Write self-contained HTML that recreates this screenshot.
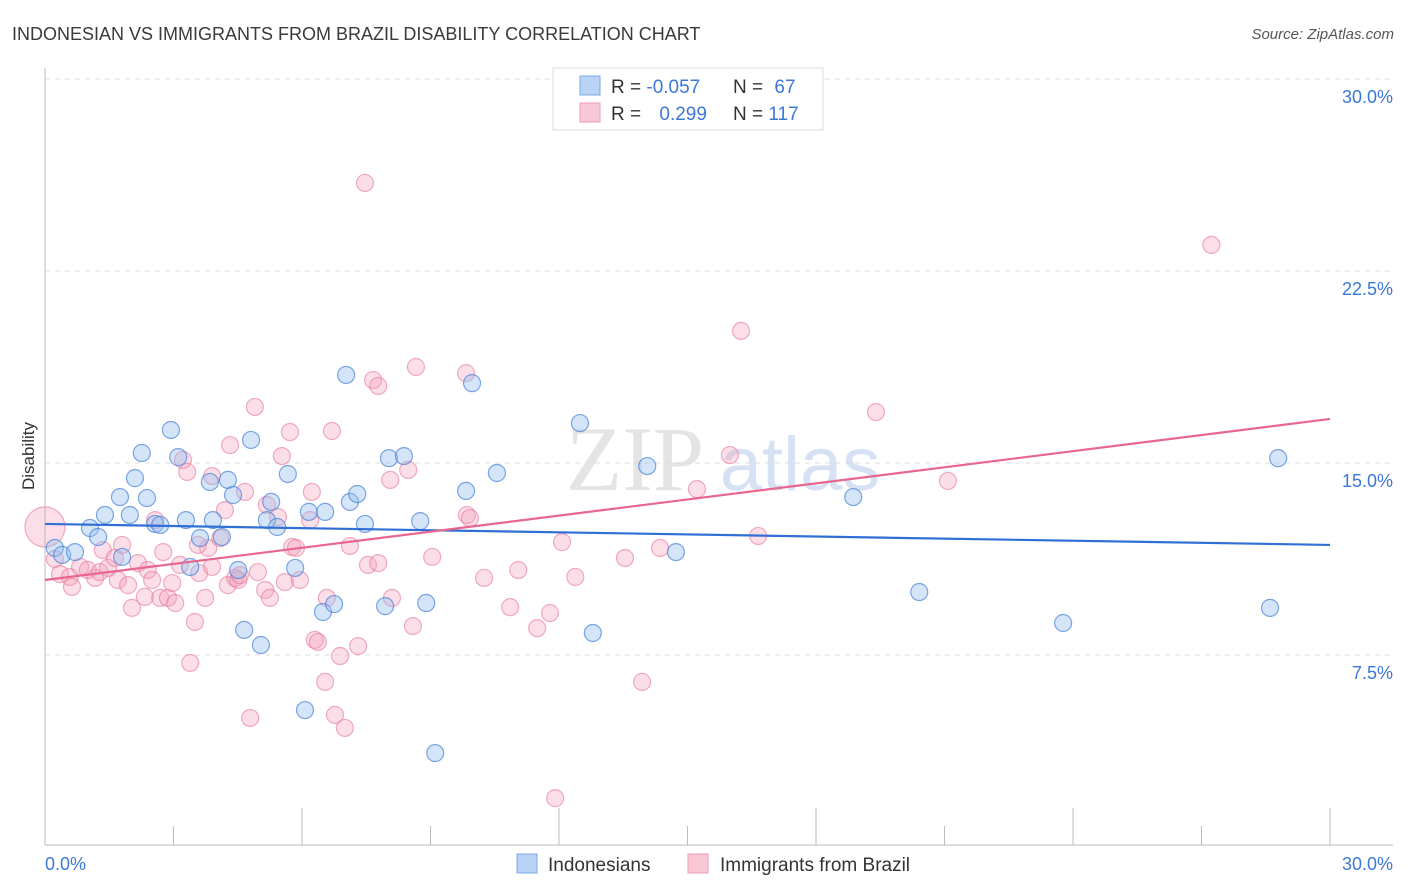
<!DOCTYPE html>
<html><head><meta charset="utf-8"><style>
body{margin:0;background:#fff;font-family:"Liberation Sans",sans-serif;}
svg{display:block}
</style></head><body>
<svg id="chart" width="1406" height="892" viewBox="0 0 1406 892" xmlns="http://www.w3.org/2000/svg">
<text x="12" y="40" font-size="18" fill="#3a3a3a">INDONESIAN VS IMMIGRANTS FROM BRAZIL DISABILITY CORRELATION CHART</text>
<text x="1394" y="39" font-size="15" font-style="italic" fill="#555" text-anchor="end">Source: ZipAtlas.com</text>
<g>
<text x="635" y="490" font-size="92" font-family="Liberation Serif,serif" fill="#e4e4e4" text-anchor="middle">ZIP</text>
<text x="800" y="490" font-size="76" fill="#d6e2f4" text-anchor="middle">atlas</text>
</g>
<g id="grid"></g>
<g id="axes"></g>
<g id="marks"></g>
<g>
<rect x="553" y="68" width="270" height="62" fill="#fff" stroke="#ddd"/>
<rect x="580" y="76" width="20" height="19" fill="#b8d3f6" stroke="#7aa8e6"/>
<rect x="580" y="103" width="20" height="19" fill="#f9c8d6" stroke="#ec9ab3"/>
<text x="611" y="93" font-size="19" fill="#333">R = <tspan fill="#3b78d8">-0.057</tspan></text>
<text x="733" y="93" font-size="19" fill="#333">N = <tspan fill="#3b78d8" dx="6">67</tspan></text>
<text x="611" y="120" font-size="19" fill="#333">R = <tspan fill="#3b78d8" dx="13">0.299</tspan></text>
<text x="733" y="120" font-size="19" fill="#333">N = <tspan fill="#3b78d8">117</tspan></text>
</g>
<text transform="translate(34,456) rotate(-90)" font-size="17" fill="#333" text-anchor="middle">Disability</text>
<g>
<rect x="517" y="854" width="20" height="19" fill="#b8d3f6" stroke="#7aa8e6"/>
<text x="548" y="871" font-size="19" fill="#333">Indonesians</text>
<rect x="688" y="854" width="20" height="19" fill="#f9c8d6" stroke="#ec9ab3"/>
<text x="720" y="871" font-size="19" fill="#333">Immigrants from Brazil</text>
</g>
</svg>
<script>
const yTicks=[7.5,15,22.5,30];
const yTickLabels=["7.5%","15.0%","22.5%","30.0%"];
const xTicks=[0,3,6,9,12,15,18,21,24,27,30];
const blueX=[0.23,0.40,0.70,1.05,1.24,1.40,1.75,1.80,1.98,2.10,2.26,2.38,2.57,2.69,2.94,3.11,3.29,3.39,3.62,3.85,3.92,4.13,4.27,4.39,4.51,4.65,4.81,5.04,5.18,5.28,5.42,5.67,5.84,6.07,6.16,6.49,6.54,6.75,7.03,7.12,7.29,7.47,7.94,8.03,8.38,8.76,8.90,9.11,9.83,9.97,10.55,12.49,12.79,14.06,14.73,18.87,20.41,23.77,28.60,28.79];
const blueY=[11.68,11.41,11.52,12.46,12.11,12.97,13.67,11.33,12.97,14.41,15.39,13.63,12.62,12.58,16.29,15.23,12.77,10.94,12.07,14.26,12.77,12.11,14.34,13.75,10.82,8.48,15.90,7.89,12.77,13.48,12.50,14.57,10.90,5.35,13.09,9.18,13.09,9.49,18.44,13.48,13.79,12.62,9.41,15.19,15.27,12.73,9.53,3.67,13.91,18.12,14.61,16.56,8.36,14.88,11.52,13.67,9.96,8.75,9.34,15.19];
const pinkX=[0.0,0.23,0.35,0.58,0.63,0.82,1.0,1.17,1.28,1.35,1.47,1.63,1.7,1.8,1.94,2.03,2.17,2.33,2.4,2.5,2.57,2.69,2.76,2.87,2.97,3.04,3.15,3.22,3.32,3.5,3.39,3.6,3.74,3.81,3.9,3.9,4.09,4.2,4.27,4.32,4.44,4.51,4.55,4.67,4.79,4.9,4.97,5.14,5.18,5.25,5.44,5.53,5.6,5.72,5.77,5.86,5.95,6.19,6.23,6.3,6.37,6.54,6.58,6.7,6.77,6.89,7.0,7.12,7.31,7.47,7.54,7.66,7.78,7.78,8.06,8.1,8.59,8.66,9.04,9.83,9.85,9.92,10.25,10.86,11.05,11.49,11.79,11.91,12.07,12.38,13.54,13.94,14.36,15.22,15.99,16.25,16.65,19.4,21.08,27.23,8.48,3.57];
const pinkY=[12.5,11.25,10.66,10.55,10.16,10.94,10.82,10.51,10.74,11.6,10.9,11.29,10.43,11.8,10.23,9.34,11.09,9.77,10.82,10.43,12.77,9.73,11.52,9.73,10.31,9.53,11.02,15.12,14.65,8.79,7.19,10.7,9.73,11.68,10.94,14.49,12.07,13.16,10.23,15.7,10.51,10.43,10.62,13.87,5.04,17.19,10.74,10.04,13.36,9.73,12.89,15.27,10.35,16.21,11.72,11.68,10.43,12.77,13.87,8.09,8.01,6.45,9.73,16.25,5.16,7.46,4.65,11.76,7.85,25.94,11.02,18.24,18.01,11.09,14.34,9.73,8.63,18.75,11.33,18.51,12.97,12.85,10.51,9.37,10.82,8.55,9.14,1.91,11.91,10.55,11.29,6.45,11.68,13.98,15.31,20.16,12.15,16.99,14.3,23.52,14.73,11.8];
const blueTrend=[12.62,11.8];
const pinkTrend=[10.43,16.72];
const NS="http://www.w3.org/2000/svg";
const X=v=>45+v/30*1285, Y=v=>847-v/7.5*192;
function mk(tag,attrs,parent){const e=document.createElementNS(NS,tag);for(const k in attrs)e.setAttribute(k,attrs[k]);parent.appendChild(e);return e;}
const grid=document.getElementById('grid'),axes=document.getElementById('axes'),marks=document.getElementById('marks');
yTicks.forEach((t,i)=>{
 const l=mk('line',{x1:45,x2:1393,y1:Y(t),y2:Y(t),stroke:'#ddd','stroke-dasharray':'5,5'},grid);
 
 
 const tx=mk('text',{x:1393,y:Y(t)+24,'font-size':18,fill:'#3b78d8','text-anchor':'end'},axes);
 tx.textContent=yTickLabels[i];
 
 
});
let a=mk('line',{x1:45,x2:45,y1:68,y2:845,stroke:'#bbb'},axes);


a=mk('line',{x1:45,x2:1393,y1:845,y2:845,stroke:'#bbb'},axes);


xTicks.forEach((t,i)=>{
 const l=mk('line',{x1:X(t),x2:X(t),y1:i%2?826:808,y2:845,stroke:'#bbb'},axes);
 
 
});
let xl=mk('text',{x:45,y:870,'font-size':18,fill:'#3b78d8'},axes);xl.textContent='0.0%';


xl=mk('text',{x:1393,y:870,'font-size':18,fill:'#3b78d8','text-anchor':'end'},axes);xl.textContent='30.0%';


pinkX.forEach((x,i)=>{
 const c=mk('circle',{cx:X(x),cy:Y(pinkY[i]),r:i===0?20:8.5,fill:'rgba(244,160,186,0.35)',stroke:'rgba(232,120,155,0.6)','stroke-width':1.2},marks);
 
 
});
blueX.forEach((x,i)=>{
 const c=mk('circle',{cx:X(x),cy:Y(blueY[i]),r:8.5,fill:'rgba(150,190,240,0.4)',stroke:'rgba(70,130,215,0.7)','stroke-width':1.2},marks);
 
 
});
let tl=mk('line',{x1:X(0),x2:X(30),y1:Y(blueTrend[0]),y2:Y(blueTrend[1]),stroke:'#2f6fd6','stroke-width':2.2},marks);


tl=mk('line',{x1:X(0),x2:X(30),y1:Y(pinkTrend[0]),y2:Y(pinkTrend[1]),stroke:'#e8668f','stroke-width':2.2},marks);


</script>
</body></html>
